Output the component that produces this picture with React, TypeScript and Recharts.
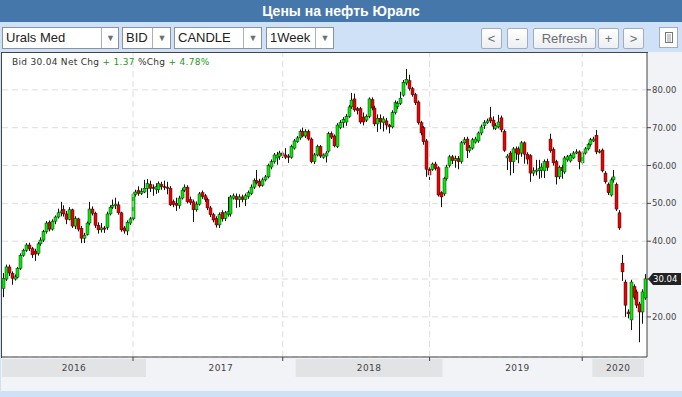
import React from 'react';
import { ComposedChart, Bar, XAxis, YAxis, CartesianGrid, ReferenceLine } from 'recharts';

// weekly Urals Med bid candles
const opens = [
  27.5, 30.0, 33.2, 31.5, 30.0, 30.5, 32.8, 36.3, 37.6, 39.0,
  38.0, 37.4, 36.8, 39.3, 40.3, 42.5, 45.0, 43.2, 45.3, 46.4,
  47.5, 48.4, 47.2, 45.8, 48.3, 44.0, 45.9, 43.4, 40.8, 41.8,
  44.8, 48.5, 47.4, 44.2, 43.0, 43.5, 43.6, 47.2, 49.0, 49.4,
  49.6, 47.5, 43.5, 42.7, 44.8, 45.9, 52.3, 53.4, 52.6, 53.0,
  54.0, 55.0, 54.2, 53.6, 53.6, 55.0, 54.4, 54.3, 54.0, 50.5,
  50.0, 49.4, 51.4, 53.5, 54.3, 51.0, 50.4, 48.3, 49.8, 52.8,
  52.0, 51.0, 48.8, 47.0, 46.0, 44.3, 47.6, 46.0, 47.0, 47.2,
  51.4, 51.8, 51.0, 51.7, 51.0, 51.8, 52.6, 54.3, 56.0, 55.8,
  54.8, 56.2, 57.0, 59.6, 61.0, 62.0, 62.4, 63.3, 62.8, 62.5,
  62.2, 64.6, 66.3, 67.3, 69.0, 67.8, 69.0, 67.0, 61.0, 62.8,
  65.0, 62.2, 62.5, 63.8, 68.4, 67.8, 65.0, 70.0, 71.3, 71.5,
  73.0, 75.5, 77.6, 75.0, 75.0, 72.8, 72.0, 73.0, 77.4, 75.2,
  71.0, 72.5, 71.3, 71.8, 70.7, 70.2, 74.0, 75.6, 76.4, 78.6,
  81.8, 82.4, 80.3, 78.7, 76.8, 71.3, 70.0, 66.5, 59.0, 59.0,
  60.4, 59.4, 52.8, 52.5, 56.5, 60.0, 62.3, 61.3, 61.8, 61.0,
  66.0, 67.0, 63.9, 64.6, 66.2, 66.5, 68.6, 70.5, 71.3, 72.6,
  72.0, 69.8, 70.2, 72.6, 69.0, 62.0, 63.3, 61.0, 64.4, 64.4,
  63.3, 66.0, 63.0, 62.6, 58.0, 58.5, 58.6, 58.8, 58.6, 61.0,
  67.0, 64.2, 61.0, 57.0, 59.5, 58.3, 61.5, 61.2, 62.0, 63.3,
  63.6, 60.7, 63.3, 64.4, 65.5, 66.5, 68.0, 63.6, 64.1, 58.0,
  55.0, 52.2, 56.2, 55.0, 47.5, 34.2, 29.2, 21.3, 19.2, 28.0,
  26.6, 23.4, 21.3, 25.0,
];
const highs = [
  31.6, 33.8, 33.8, 32.0, 31.2, 33.2, 36.8, 38.0, 39.5, 39.6,
  38.5, 38.0, 39.8, 41.0, 43.0, 45.3, 45.5, 45.8, 46.8, 48.6,
  50.4, 49.5, 48.0, 49.0, 48.6, 46.6, 46.2, 44.0, 42.2, 45.2,
  50.4, 49.2, 47.8, 45.0, 44.8, 44.0, 47.8, 49.5, 51.0, 51.5,
  50.5, 47.8, 44.0, 45.5, 46.4, 53.0, 53.6, 54.5, 54.0, 56.2,
  56.4, 56.0, 55.0, 55.3, 55.8, 55.7, 56.0, 55.7, 54.6, 51.0,
  51.5, 52.0, 54.0, 55.0, 54.8, 51.8, 51.0, 50.5, 53.0, 53.4,
  52.5, 51.5, 49.3, 47.5, 46.6, 47.6, 48.2, 48.0, 51.7, 52.2,
  52.6, 52.6, 52.4, 52.3, 52.6, 53.4, 55.0, 56.6, 58.8, 56.5,
  56.8, 57.5, 60.5, 61.6, 63.3, 63.6, 63.9, 63.8, 64.6, 63.0,
  65.5, 67.0, 67.8, 69.5, 70.0, 69.6, 69.5, 67.4, 63.3, 65.5,
  65.4, 63.2, 63.8, 68.9, 69.0, 68.2, 71.2, 72.0, 72.8, 73.6,
  76.0, 79.2, 79.0, 75.5, 75.5, 74.0, 73.5, 78.0, 78.0, 75.8,
  73.5, 73.5, 73.0, 72.6, 71.0, 74.6, 77.2, 77.0, 79.5, 82.6,
  85.5, 84.0, 80.8, 79.2, 77.2, 71.8, 70.4, 67.0, 59.5, 60.8,
  61.0, 59.8, 53.2, 57.0, 60.2, 62.8, 62.8, 62.6, 62.5, 66.5,
  67.5, 67.6, 65.4, 67.3, 67.6, 69.0, 70.8, 72.0, 72.4, 75.5,
  73.0, 71.2, 73.4, 73.2, 69.5, 63.0, 63.8, 64.9, 65.0, 65.0,
  66.5, 66.4, 63.5, 63.0, 59.5, 61.5, 61.5, 60.6, 61.6, 61.8,
  68.4, 64.8, 61.5, 60.0, 60.2, 62.5, 62.8, 63.2, 63.8, 64.3,
  64.0, 63.8, 64.9, 66.0, 67.3, 67.6, 69.4, 64.3, 64.5, 58.5,
  55.5, 56.8, 58.8, 55.5, 48.2, 36.4, 29.8, 22.0, 29.8, 28.6,
  27.2, 24.0, 27.3, 31.3,
];
const lows = [
  25.2, 29.5, 30.8, 28.5, 29.6, 30.2, 32.4, 35.9, 37.2, 37.4,
  35.6, 34.8, 36.2, 38.8, 39.8, 42.0, 42.6, 42.8, 44.5, 46.0,
  46.6, 46.5, 44.5, 45.5, 43.5, 43.2, 42.6, 39.5, 39.5, 41.5,
  44.2, 46.8, 43.5, 42.0, 42.3, 42.2, 43.0, 46.8, 48.5, 48.5,
  47.0, 42.5, 42.0, 41.6, 44.3, 45.5, 51.8, 52.0, 52.2, 52.7,
  51.4, 53.0, 52.0, 52.5, 52.8, 53.6, 53.5, 52.4, 49.3, 49.0,
  48.0, 48.6, 51.0, 53.0, 50.0, 49.6, 45.1, 47.8, 49.4, 51.2,
  50.4, 48.2, 46.4, 45.0, 43.6, 43.5, 45.2, 45.3, 46.5, 46.5,
  51.0, 48.8, 49.0, 50.3, 49.3, 51.2, 52.2, 53.8, 55.0, 54.2,
  54.4, 55.8, 56.6, 59.0, 60.5, 60.2, 61.5, 62.0, 61.7, 60.7,
  61.8, 64.2, 66.0, 66.8, 67.5, 67.3, 66.6, 60.6, 60.4, 62.4,
  62.0, 61.8, 60.8, 63.4, 67.0, 64.8, 64.6, 69.6, 70.0, 70.5,
  72.6, 75.0, 74.2, 73.5, 71.0, 70.6, 71.5, 72.5, 74.6, 70.4,
  68.9, 69.6, 69.0, 69.5, 68.5, 69.8, 73.5, 74.9, 76.0, 78.2,
  81.2, 79.8, 78.2, 76.0, 70.8, 68.0, 65.5, 57.0, 56.2, 58.6,
  58.7, 51.8, 49.0, 52.0, 56.0, 59.5, 60.4, 59.4, 59.0, 60.5,
  65.5, 62.0, 63.4, 64.2, 65.8, 66.0, 68.0, 69.7, 71.0, 71.2,
  69.5, 69.4, 69.8, 68.8, 63.6, 58.8, 57.4, 58.0, 61.5, 60.6,
  62.3, 60.5, 60.3, 55.7, 57.2, 57.4, 56.5, 56.8, 56.7, 58.6,
  63.4, 60.0, 55.0, 56.4, 56.5, 57.8, 61.0, 60.8, 61.7, 63.0,
  59.0, 60.2, 62.9, 64.0, 65.0, 66.2, 63.0, 63.2, 58.2, 55.2,
  52.2, 51.8, 55.5, 48.0, 43.0, 29.5, 20.0, 19.6, 16.5, 24.6,
  22.3, 13.3, 18.2, 24.5,
];
const closes = [
  30.2, 33.2, 31.6, 30.2, 30.6, 32.8, 36.3, 37.6, 39.0, 38.0,
  36.4, 36.6, 39.3, 40.3, 42.5, 44.8, 43.2, 45.3, 46.4, 47.5,
  48.0, 47.2, 45.8, 48.3, 44.0, 46.0, 43.2, 40.8, 41.6, 44.8,
  48.5, 47.4, 44.2, 43.0, 43.5, 43.2, 47.2, 49.0, 49.5, 49.8,
  47.5, 43.0, 42.7, 45.0, 45.9, 52.5, 53.0, 52.6, 53.2, 54.0,
  55.2, 54.0, 54.0, 54.4, 55.2, 54.4, 54.3, 54.0, 49.6, 49.7,
  49.5, 51.4, 53.5, 54.3, 50.4, 50.2, 48.3, 49.8, 52.5, 51.8,
  51.0, 48.8, 47.0, 45.6, 44.3, 47.0, 45.9, 47.5, 47.8, 51.7,
  52.0, 51.0, 51.7, 51.0, 52.0, 52.8, 54.3, 56.0, 55.4, 54.6,
  56.2, 57.0, 60.0, 61.0, 62.8, 62.8, 63.3, 62.7, 62.2, 62.2,
  65.0, 66.5, 67.3, 69.0, 67.8, 69.0, 67.0, 61.0, 62.8, 65.0,
  62.5, 62.8, 63.3, 68.4, 67.5, 65.2, 70.7, 71.3, 72.2, 73.0,
  75.5, 77.3, 74.7, 74.5, 71.5, 71.5, 73.0, 77.6, 75.2, 71.0,
  72.5, 71.5, 72.3, 70.7, 70.2, 74.0, 76.6, 76.4, 77.8, 82.0,
  82.8, 80.3, 78.7, 76.6, 71.3, 68.6, 66.3, 59.0, 57.5, 60.4,
  59.2, 52.2, 51.7, 56.5, 59.6, 62.3, 61.3, 61.8, 61.0, 66.0,
  66.8, 63.9, 64.8, 66.8, 67.0, 68.6, 70.2, 71.3, 71.8, 71.8,
  70.4, 70.5, 71.5, 69.4, 64.0, 62.5, 61.0, 64.4, 63.3, 63.0,
  66.0, 63.0, 61.7, 58.0, 58.6, 58.8, 59.2, 59.6, 61.0, 59.5,
  63.9, 60.7, 57.0, 59.5, 58.6, 62.0, 62.3, 62.7, 63.3, 63.6,
  61.0, 63.3, 64.4, 65.5, 66.8, 67.0, 63.6, 63.8, 58.6, 55.7,
  52.8, 56.2, 57.0, 48.5, 43.5, 31.9, 23.1, 20.8, 29.2, 25.2,
  23.1, 21.3, 26.6, 30.04,
];

const yTicks = [20, 30, 40, 50, 60, 70, 80];
const yearLabels = ['2016', '2017', '2018', '2019', '2020'];
const yearStarts = [0, 50, 102, 153, 205];
const yearEnds = [50, 102, 153, 205, 223];
const yearGridIdx = [45, 97, 148, 201];

const GREEN = '#00ee00';
const RED = '#ee0000';
const PLOT_LEFT = 2;
const PLOT_RIGHT = 647;
const BAND = (PLOT_RIGHT - PLOT_LEFT) / opens.length;
const lastClose = closes[closes.length - 1];

const chartData = opens.map((o, i) => ({
  i,
  o,
  h: highs[i],
  l: lows[i],
  c: closes[i],
  range: [lows[i], highs[i]],
}));

const xTicks = [...yearStarts, ...yearGridIdx].sort((a, b) => a - b);

const renderCandle = (props: any) => {
  const { x, y, width, height, payload } = props;
  if (!payload) return <g />;
  const { o, h, l, c } = payload;
  const top = Math.min(y, y + height);
  const span = Math.abs(height);
  const k = span / (h - l);
  const px = Math.floor(x + width / 2);
  const bodyTop = top + (h - Math.max(o, c)) * k;
  const bodyH = Math.max(Math.abs(o - c) * k, 1);
  const fill = c > o ? GREEN : c < o ? RED : '#111';
  return (
    <g>
      <line x1={px + 0.5} x2={px + 0.5} y1={top} y2={top + span} stroke="#111" strokeWidth={1} />
      <rect x={px - 1} y={bodyTop} width={3} height={bodyH} fill={fill} stroke="#111" strokeWidth={0.45} />
    </g>
  );
};

const YearTick = (props: any) => {
  const { x, y, payload } = props;
  const v = payload.value;
  const k = yearStarts.indexOf(v);
  if (k < 0) {
    // small tick under the axis at a year gridline
    return <line x1={x} x2={x} y1={y} y2={y + 4} stroke="#444" />;
  }
  const left = x - BAND / 2;
  const w = (yearEnds[k] - yearStarts[k]) * BAND;
  return (
    <g>
      {k % 2 === 0 && <rect x={left} y={y + 2} width={w} height={18} fill="#e2e3e5" />}
      <text
        x={left + w / 2}
        y={y + 14}
        textAnchor="middle"
        fill="#444"
        fontSize={9}
        fontFamily="DejaVu Sans"
        letterSpacing={0.4}
      >
        {yearLabels[k]}
      </text>
    </g>
  );
};

// the 30.00 label sits under the last-price tag, so it is left blank
const yTickFormat = (v: number) => (Math.abs(v - lastClose) < 3 ? '' : v.toFixed(2));

const PriceTag = (props: any) => {
  const vb = props.viewBox || {};
  const right = (vb.x || 0) + (vb.width || 0);
  const cy = vb.y || 0;
  return (
    <g>
      <polygon
        points={`${right + 1},${cy} ${right + 6},${cy - 6} ${right + 34},${cy - 6} ${right + 34},${cy + 6} ${right + 6},${cy + 6}`}
        fill="#222"
      />
      <text x={right + 6} y={cy + 3.5} fill="#fff" fontSize={8.5} fontFamily="DejaVu Sans">
        {lastClose.toFixed(2)}
      </text>
    </g>
  );
};

const Select = ({ x, w, div, label }: { x: number; w: number; div: number; label: string }) => (
  <div
    style={{
      position: 'absolute',
      left: x,
      top: 27,
      width: w,
      height: 22,
      boxSizing: 'border-box',
      border: '1px solid #8d939b',
      background: '#fff',
    }}
  >
    <span style={{ position: 'absolute', left: 3, top: 0, fontSize: 13, lineHeight: '20px', color: '#222' }}>{label}</span>
    <div style={{ position: 'absolute', left: div - x - 1, top: 0, width: 1, height: 20, background: '#aab0b8' }} />
    <span
      style={{
        position: 'absolute',
        left: div - x,
        width: x + w - div - 1,
        top: 0,
        textAlign: 'center',
        fontSize: 9,
        lineHeight: '20px',
        color: '#6b6f75',
      }}
    >
      ▼
    </span>
  </div>
);

const Btn = ({ x, w, label }: { x: number; w: number; label: string }) => (
  <div
    style={{
      position: 'absolute',
      left: x,
      top: 28,
      width: w,
      height: 21,
      boxSizing: 'border-box',
      border: '1px solid #a3acb8',
      borderRadius: 2,
      background: 'linear-gradient(#ffffff, #eceef1)',
      color: '#6a6e74',
      fontSize: 13,
      lineHeight: '19px',
      textAlign: 'center',
    }}
  >
    {label}
  </div>
);

export default function App() {
  return (
    <div
      style={{
        position: 'absolute',
        left: 0,
        top: 0,
        width: 682,
        height: 397,
        overflow: 'hidden',
        background: '#cfe1f7',
        fontFamily: '"Liberation Sans", Arial, sans-serif',
      }}
    >
      <div
        style={{
          position: 'absolute',
          left: 0,
          top: 0,
          width: 682,
          height: 22,
          background: '#4677ab',
          color: '#fff',
          fontWeight: 'bold',
          fontSize: 14,
          lineHeight: '22px',
          textAlign: 'center',
        }}
      >
        Цены на нефть Юралс
      </div>

      <Select x={2} w={117} div={101} label="Urals Med" />
      <Select x={122} w={49} div={152} label="BID" />
      <Select x={174} w={88} div={243} label="CANDLE" />
      <Select x={266} w={68} div={315} label="1Week" />

      <Btn x={481} w={21} label="<" />
      <Btn x={507} w={21} label="-" />
      <Btn x={533} w={63} label="Refresh" />
      <Btn x={598} w={21} label="+" />
      <Btn x={623} w={21} label=">" />
      <div
        style={{
          position: 'absolute',
          left: 659,
          top: 27,
          width: 19,
          height: 21,
          boxSizing: 'border-box',
          border: '1px solid #a3acb8',
          background: '#fff',
        }}
      >
        <svg width={17} height={19}>
          <rect x={5.5} y={4.5} width={7} height={10} fill="none" stroke="#777" />
          {[7, 9, 11, 13].map((yy) => (
            <line key={yy} x1={7} x2={11} y1={yy} y2={yy} stroke="#999" />
          ))}
        </svg>
      </div>

      <div style={{ position: 'absolute', left: 1, top: 52, width: 681, height: 339, background: '#f1f3f6' }} />

      <div style={{ position: 'absolute', left: 0, top: 52 }}>
        <ComposedChart
          width={682}
          height={325}
          data={chartData}
          margin={{ top: 0, right: 0, bottom: 0, left: PLOT_LEFT }}
          barCategoryGap={0}
          barGap={0}
        >
          <CartesianGrid vertical={false} stroke="#dedede" strokeDasharray="6 4" fill="#fff" />
          <XAxis
            dataKey="i"
            type="category"
            height={20}
            ticks={xTicks}
            interval={0}
            tick={<YearTick />}
            tickLine={false}
            tickSize={0}
            tickMargin={0}
            axisLine={{ stroke: '#444' }}
          />
          <YAxis
            orientation="right"
            width={35}
            domain={[9.4, 90]}
            ticks={yTicks}
            allowDataOverflow
            tickFormatter={yTickFormat}
            tick={{ fill: '#444', fontSize: 8.5, fontFamily: 'DejaVu Sans' }}
            tickSize={4}
            tickMargin={1}
            tickLine={{ stroke: '#444' }}
            axisLine={{ stroke: '#444' }}
          />
          {yearGridIdx.map((v) => (
            <ReferenceLine key={v} x={v} stroke="#dedede" strokeDasharray="6 4" />
          ))}
          <Bar dataKey="range" shape={renderCandle} isAnimationActive={false} />
          <ReferenceLine y={lastClose} stroke="none" label={<PriceTag />} />
        </ComposedChart>
      </div>

      <div
        style={{
          position: 'absolute',
          left: 1,
          top: 52,
          width: 646,
          height: 305,
          borderLeft: '1px solid #444',
          borderTop: '1px solid #444',
          pointerEvents: 'none',
        }}
      />

      <div
        style={{
          position: 'absolute',
          left: 12,
          top: 57,
          fontFamily: '"DejaVu Sans", sans-serif',
          fontSize: 9,
          letterSpacing: 0.3,
          color: '#333',
          whiteSpace: 'pre',
        }}
      >
        {'Bid 30.04 Net Chg '}
        <span style={{ color: '#1a9a1a' }}>+ 1.37</span>
        {' %Chg '}
        <span style={{ color: '#1a9a1a' }}>+ 4.78%</span>
      </div>
    </div>
  );
}
